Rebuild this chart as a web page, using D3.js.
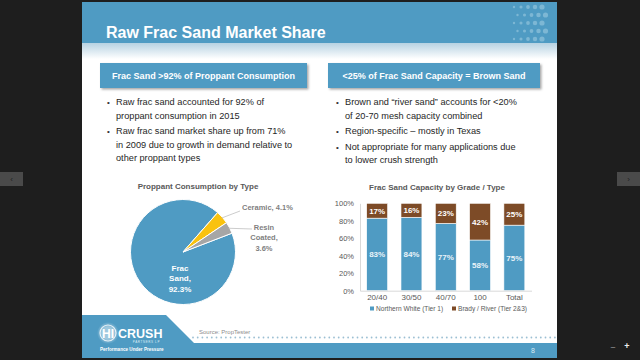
<!DOCTYPE html>
<html><head><meta charset="utf-8">
<script src="https://cdn.jsdelivr.net/npm/d3@7"></script>
<style>
html,body{margin:0;padding:0;background:#1e1e1e;overflow:hidden}
svg{display:block;font-family:"Liberation Sans",Arial,sans-serif}
</style></head>
<body><svg id="c" width="640" height="360"></svg>
<script>
// ---------- data ----------
const pieCategories = ["Frac Sand", "Ceramic", "Resin Coated"];
const pieValues = [92.3, 4.1, 3.6];
const grades = ["20/40", "30/50", "40/70", "100", "Total"];
const northernWhite = [83, 84, 77, 58, 75];
const bradyRiver = [17, 16, 23, 42, 25];
const yTickValues = [0, 20, 40, 60, 80, 100];
const seriesNames = ["Northern White (Tier 1)", "Brady / River (Tier 2&3)"];
const leftBullets = [["Raw frac sand accounted for 92% of", "proppant consumption in 2015"],
  ["Raw frac sand market share up from 71%", "in 2009 due to growth in demand relative to", "other proppant types"]];
const rightBullets = [["Brown and \u201criver sand\u201d accounts for <20%", "of 20-70 mesh capacity combined"],
  ["Region-specific \u2013 mostly in Texas"],
  ["Not appropriate for many applications due", "to lower crush strength"]];

// ---------- slide frame ----------
const svg = d3.select("#c");
const BLUE = "#4f9bc3", BROWN = "#7d4b27", YEL = "#f9c20f", GRAY = "#a6a6a6";
const defs = svg.append("defs");
const g1 = defs.append("linearGradient").attr("id","hs").attr("x1",0).attr("x2",0).attr("y1",0).attr("y2",1);
g1.append("stop").attr("offset","0").attr("stop-color","#b7d2e2");
g1.append("stop").attr("offset","1").attr("stop-color","#ffffff");
const f = defs.append("filter").attr("id","sh").attr("x","-10%").attr("y","-20%").attr("width","130%").attr("height","160%");
f.append("feDropShadow").attr("dx",1.5).attr("dy",1.5).attr("stdDeviation",1.2).attr("flood-color","#000").attr("flood-opacity",0.35);
const glow = defs.append("radialGradient").attr("id","gl");
glow.append("stop").attr("offset","0.55").attr("stop-color","#ffffff").attr("stop-opacity",0.9);
glow.append("stop").attr("offset","1").attr("stop-color","#ffffff").attr("stop-opacity",0);

const SX = 82, SY = 2, SW = 475, SH = 356;
svg.append("rect").attr("x",SX).attr("y",SY).attr("width",SW).attr("height",SH).attr("fill","#fff");
// header
svg.append("rect").attr("x",SX).attr("y",SY).attr("width",SW).attr("height",41).attr("fill",BLUE);
svg.append("rect").attr("x",SX).attr("y",SY+41).attr("width",SW).attr("height",16).attr("fill","url(#hs)");
// header dot pattern
const dots = svg.append("g").attr("fill","#8cc0da");
for (let r = 0; r < 5; r++) for (let c = 0; c < 5; c++) {
  const cx = 514 + c*7 + (r%2)*3.5, cy = 7 + r*8;
  if (cx > 548) continue;
  dots.append("circle").attr("cx",cx).attr("cy",cy).attr("r",1.2 + c*0.35).attr("opacity",0.75);
}
svg.append("text").attr("x",106).attr("y",38).attr("fill","#fff").attr("font-size",16).attr("font-weight","bold").text("Raw Frac Sand Market Share");

// section boxes
function box(x, w, label) {
  svg.append("rect").attr("x",x).attr("y",63).attr("width",w).attr("height",25).attr("fill",BLUE).attr("filter","url(#sh)");
  svg.append("text").attr("x",x+w/2).attr("y",79).attr("text-anchor","middle").attr("fill","#fff")
    .attr("font-size",9).attr("font-weight","bold").text(label);
}
box(100, 207, "Frac Sand >92% of Proppant Consumption");
box(328, 212, "<25% of Frac Sand Capacity = Brown Sand");

function bullets(list, bx, tx, y0) {
  let y = y0;
  list.forEach(lines => {
    svg.append("text").attr("x",bx).attr("y",y).attr("font-size",8).attr("fill","#333").text("\u2022");
    lines.forEach((l,i) => {
      svg.append("text").attr("x",tx).attr("y",y).attr("font-size",9.2).attr("fill","#262626").text(l);
      y += 13.5;
    });
    y += 2;
  });
}
bullets(leftBullets, 107, 116, 105);
bullets(rightBullets, 336, 345, 105);

// ---------- pie chart ----------
svg.append("text").attr("x",198).attr("y",189).attr("text-anchor","middle").attr("font-size",8)
  .attr("font-weight","bold").attr("fill","#595959").text("Proppant Consumption by Type");
const pcx = 183, pcy = 252, pr = 52.5;
const pie = d3.pie().sort(null).value(d => d.v).startAngle(69*Math.PI/180).endAngle(69*Math.PI/180 + 2*Math.PI);
const pieData = pie(pieCategories.map((c,i) => ({c, v: pieValues[i]})));
const arc = d3.arc().innerRadius(0).outerRadius(pr);
const pieColor = d3.scaleOrdinal().domain(pieCategories).range([BLUE, YEL, GRAY]);
const pg = svg.append("g").attr("transform",`translate(${pcx},${pcy})`);
pg.selectAll("path").data(pieData).join("path").attr("d",arc).attr("fill",d => pieColor(d.data.c))
  .attr("stroke","#fff").attr("stroke-width",1);
// labels (layout offsets relative to pie centre)
const labelLayout = {
  "Frac Sand": {dx:-3, dy:19, anchor:"middle", fill:"#fff", size:8, lines:["Frac","Sand,"]},
  "Ceramic": {dx:59, dy:-42, anchor:"start", fill:"#7f7f7f", size:7.5, lines:[], inline:true, lx:57, ly:-41},
  "Resin Coated": {dx:81, dy:-22, anchor:"middle", fill:"#7f7f7f", size:7.5, lines:["Resin","Coated,"], lx:69, ly:-23}
};
pieData.forEach(d => {
  const L = labelLayout[d.data.c];
  const pct = d3.format(".1f")(d.data.v) + "%";
  const lines = L.inline ? [d.data.c + ", " + pct] : L.lines.concat([pct]);
  const t = pg.append("text").attr("text-anchor",L.anchor).attr("fill",L.fill).attr("font-size",L.size).attr("font-weight","bold");
  lines.forEach((l,i) => t.append("tspan").attr("x",L.dx).attr("y",L.dy + i*10.3).text(l));
  if (L.lx !== undefined) {
    const mid = (d.startAngle + d.endAngle)/2;
    const p0 = [Math.sin(mid)*pr*0.98, -Math.cos(mid)*pr*0.98];
    pg.append("line").attr("x1",p0[0]).attr("y1",p0[1]).attr("x2",L.lx).attr("y2",L.ly)
      .attr("stroke","#bfbfbf").attr("stroke-width",0.8);
  }
});

// ---------- stacked bar chart ----------
svg.append("text").attr("x",437).attr("y",190).attr("text-anchor","middle").attr("font-size",8)
  .attr("font-weight","bold").attr("fill","#595959").text("Frac Sand Capacity by Grade / Type");
const x = d3.scaleBand().domain(grades).range([360, 531.5]).paddingInner(0.39).paddingOuter(0.195);
const y = d3.scaleLinear().domain([0,100]).range([290.7, 203.3]);
const bg = svg.append("g");
const yAxis = d3.axisLeft(y).tickValues(yTickValues).tickFormat(d => d + "%").tickSize(0).tickPadding(6);
const ya = svg.append("g").attr("transform","translate(360,0)").call(yAxis);
ya.select(".domain").attr("stroke","#d9d9d9");
ya.selectAll("text").attr("font-size",7.5).attr("fill","#595959").attr("font-family","Liberation Sans, Arial, sans-serif");
const xAxis = d3.axisBottom(x).tickSize(0).tickPadding(4);
const xa = svg.append("g").attr("transform","translate(0,290.7)").call(xAxis);
xa.select(".domain").attr("stroke","#d9d9d9");
xa.selectAll("text").attr("font-size",8).attr("fill","#595959").attr("font-family","Liberation Sans, Arial, sans-serif");

const stackData = grades.map((g,i) => ({g, nw: northernWhite[i], br: bradyRiver[i]}));
const stack = d3.stack().keys(["nw","br"])(stackData);
const barColor = {nw: BLUE, br: BROWN};
stack.forEach(s => {
  bg.selectAll(null).data(s).join("rect")
    .attr("x", d => x(d.data.g)).attr("width", x.bandwidth())
    .attr("y", d => y(d[1])).attr("height", d => y(d[0]) - y(d[1]))
    .attr("fill", barColor[s.key]).attr("stroke","#fff").attr("stroke-width",0.6);
  bg.selectAll(null).data(s).join("text")
    .attr("x", d => x(d.data.g) + x.bandwidth()/2).attr("y", d => (y(d[0]) + y(d[1]))/2 + 3)
    .attr("text-anchor","middle").attr("font-size",8).attr("font-weight","bold")
    .attr("fill", s.key === "nw" ? "#eaf3f9" : "#fff")
    .text(d => (d[1]-d[0]) + "%");
});
// legend
const leg = svg.append("g");
[[371, BLUE],[453, BROWN]].forEach((p,i) => {
  leg.append("rect").attr("x",p[0]-1).attr("y",306.5).attr("width",4).attr("height",4).attr("fill",p[1]);
  leg.append("text").attr("x",p[0]+5).attr("y",310.5).attr("font-size",6.6).attr("fill","#595959").text(seriesNames[i]);
});

// ---------- footer ----------
svg.append("path").attr("d",`M${SX},315 L166,315 L194,343 L${SX+SW},343 L${SX+SW},${SY+SH} L${SX},${SY+SH} Z`).attr("fill",BLUE);
const dl = svg.append("g").attr("fill","#9bbfd3");
for (let dx = 193; dx < 555; dx += 4.7) dl.append("circle").attr("cx",dx).attr("cy",337.5).attr("r",0.9);
svg.append("text").attr("x",199).attr("y",334).attr("font-size",6).attr("fill","#8c8c8c").text("Source: PropTester");
svg.append("text").attr("x",533).attr("y",353).attr("text-anchor","middle").attr("font-size",7).attr("fill","#d8ebf5").text("8");
// logo
svg.append("circle").attr("cx",108).attr("cy",333).attr("r",11).attr("fill","url(#gl)").attr("opacity",0.5);
svg.append("circle").attr("cx",108).attr("cy",333).attr("r",8).attr("fill","none").attr("stroke","#fff").attr("stroke-width",1.2).attr("opacity",0.8);
svg.append("text").attr("x",108).attr("y",337.5).attr("text-anchor","middle").attr("font-size",12).attr("font-weight","bold").attr("fill","#fff").text("HI");
svg.append("text").attr("x",118).attr("y",338).attr("font-size",12.5).attr("font-weight","bold").attr("fill","#fff").text("CRUSH");
svg.append("text").attr("x",160).attr("y",343).attr("text-anchor","end").attr("font-size",3).attr("fill","#dcecf5").attr("letter-spacing",0.6).text("PARTNERS LP");
svg.append("text").attr("x",100).attr("y",351).attr("font-size",4.6).attr("font-weight","bold").attr("fill","#fff").text("Performance Under Pressure");

// ---------- viewer chrome ----------
svg.append("rect").attr("x",0).attr("y",172).attr("width",23).attr("height",14).attr("fill","#4a4a4a");
svg.append("text").attr("x",11.5).attr("y",182).attr("text-anchor","middle").attr("font-size",8).attr("fill","#222").text("\u2039");
svg.append("rect").attr("x",617).attr("y",172).attr("width",23).attr("height",14).attr("fill","#4a4a4a");
svg.append("text").attr("x",628.5).attr("y",182).attr("text-anchor","middle").attr("font-size",8).attr("fill","#222").text("\u203a");
svg.append("text").attr("x",613).attr("y",349).attr("text-anchor","middle").attr("font-size",8).attr("fill","#bbb").text("\u2013");
svg.append("text").attr("x",627).attr("y",349).attr("text-anchor","middle").attr("font-size",9).attr("font-weight","bold").attr("fill","#eee").text("+");
</script></body></html>
